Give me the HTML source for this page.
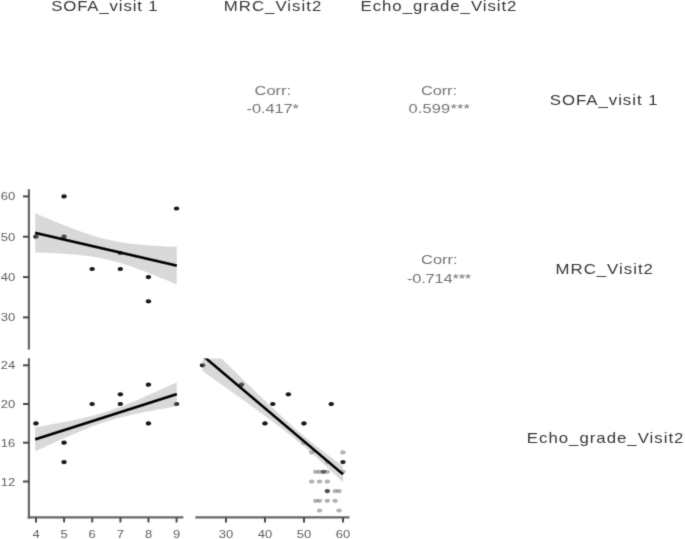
<!DOCTYPE html>
<html><head><meta charset="utf-8"><title>pairs plot</title>
<style>
html,body{margin:0;padding:0;background:#fff}
body{width:685px;height:539px;overflow:hidden}
svg{display:block;font-family:"Liberation Sans",Arial,Helvetica,sans-serif}
</style></head><body>
<svg width="685" height="539" viewBox="0 0 685 539">
<defs>
<filter id="b" x="-5%" y="-5%" width="110%" height="110%"><feConvolveMatrix order="3" kernelMatrix="1 6 1 6 36 6 1 6 1" divisor="64" edgeMode="duplicate" preserveAlpha="false"/></filter>
<clipPath id="c21"><rect x="29" y="189.4" width="154.4" height="159"/></clipPath>
<clipPath id="c31"><rect x="29" y="358.4" width="154.4" height="159"/></clipPath>
<clipPath id="c32"><rect x="195.4" y="358.4" width="154" height="159"/></clipPath>
</defs>
<rect width="685" height="539" fill="#fff"/>
<g filter="url(#b)">
<g clip-path="url(#c21)">
<ellipse cx="64.1" cy="196.4" rx="2.7" ry="2.1" fill="#000" fill-opacity="0.9"/>
<ellipse cx="176.6" cy="208.5" rx="2.7" ry="2.1" fill="#000" fill-opacity="0.9"/>
<ellipse cx="36.0" cy="236.7" rx="2.7" ry="2.1" fill="#000" fill-opacity="0.9"/>
<ellipse cx="64.1" cy="236.7" rx="2.7" ry="2.1" fill="#000" fill-opacity="0.9"/>
<ellipse cx="120.4" cy="252.9" rx="2.7" ry="2.1" fill="#000" fill-opacity="0.9"/>
<ellipse cx="92.2" cy="269.0" rx="2.7" ry="2.1" fill="#000" fill-opacity="0.9"/>
<ellipse cx="120.4" cy="269.0" rx="2.7" ry="2.1" fill="#000" fill-opacity="0.9"/>
<ellipse cx="148.5" cy="277.1" rx="2.7" ry="2.1" fill="#000" fill-opacity="0.9"/>
<ellipse cx="148.5" cy="301.3" rx="2.7" ry="2.1" fill="#000" fill-opacity="0.9"/>
<polygon points="35.2,213.1 38.7,214.7 42.3,216.2 45.8,217.7 49.4,219.2 52.9,220.7 56.4,222.1 60.0,223.6 63.5,225.0 67.1,226.4 70.6,227.8 74.1,229.1 77.7,230.4 81.2,231.7 84.8,233.0 88.3,234.1 91.8,235.3 95.4,236.4 98.9,237.4 102.5,238.3 106.0,239.2 109.5,240.1 113.1,240.8 116.6,241.5 120.2,242.1 123.7,242.7 127.2,243.2 130.8,243.7 134.3,244.1 137.9,244.5 141.4,244.8 144.9,245.1 148.5,245.4 152.0,245.6 155.6,245.8 159.1,246.0 162.6,246.2 166.2,246.4 169.7,246.5 173.3,246.7 176.8,246.8 176.8,284.6 173.3,283.1 169.7,281.6 166.2,280.1 162.6,278.6 159.1,277.2 155.6,275.7 152.0,274.3 148.5,272.9 144.9,271.5 141.4,270.2 137.9,268.9 134.3,267.6 130.8,266.3 127.2,265.2 123.7,264.0 120.2,262.9 116.6,261.9 113.1,261.0 109.5,260.1 106.0,259.3 102.5,258.5 98.9,257.8 95.4,257.2 91.8,256.6 88.3,256.1 84.8,255.7 81.2,255.3 77.7,254.9 74.1,254.6 70.6,254.3 67.1,254.0 63.5,253.8 60.0,253.5 56.4,253.3 52.9,253.2 49.4,253.0 45.8,252.8 42.3,252.7 38.7,252.6 35.2,252.5" fill="#999" fill-opacity="0.37"/>
<line x1="35.2" y1="232.8" x2="176.8" y2="265.7" stroke="#000" stroke-width="2.8"/>
</g>
<g clip-path="url(#c31)">
<ellipse cx="36.0" cy="423.4" rx="2.7" ry="2.1" fill="#000" fill-opacity="0.9"/>
<ellipse cx="64.1" cy="442.7" rx="2.7" ry="2.1" fill="#000" fill-opacity="0.9"/>
<ellipse cx="64.1" cy="462.1" rx="2.7" ry="2.1" fill="#000" fill-opacity="0.9"/>
<ellipse cx="92.2" cy="404.0" rx="2.7" ry="2.1" fill="#000" fill-opacity="0.9"/>
<ellipse cx="120.4" cy="394.3" rx="2.7" ry="2.1" fill="#000" fill-opacity="0.9"/>
<ellipse cx="120.4" cy="404.0" rx="2.7" ry="2.1" fill="#000" fill-opacity="0.9"/>
<ellipse cx="148.5" cy="384.7" rx="2.7" ry="2.1" fill="#000" fill-opacity="0.9"/>
<ellipse cx="148.5" cy="423.4" rx="2.7" ry="2.1" fill="#000" fill-opacity="0.9"/>
<ellipse cx="176.6" cy="404.0" rx="2.7" ry="2.1" fill="#000" fill-opacity="0.9"/>
<polygon points="35.2,427.3 38.7,426.7 42.3,426.0 45.8,425.4 49.4,424.7 52.9,424.1 56.4,423.4 60.0,422.7 63.5,422.1 67.1,421.4 70.6,420.7 74.1,419.9 77.7,419.2 81.2,418.4 84.8,417.6 88.3,416.8 91.8,415.9 95.4,415.0 98.9,414.0 102.5,412.9 106.0,411.8 109.5,410.7 113.1,409.5 116.6,408.2 120.2,406.9 123.7,405.5 127.2,404.1 130.8,402.7 134.3,401.2 137.9,399.7 141.4,398.2 144.9,396.6 148.5,395.1 152.0,393.5 155.6,391.9 159.1,390.3 162.6,388.7 166.2,387.1 169.7,385.5 173.3,383.9 176.8,382.3 176.8,406.1 173.3,406.8 169.7,407.4 166.2,408.0 162.6,408.7 159.1,409.3 155.6,410.0 152.0,410.7 148.5,411.4 144.9,412.1 141.4,412.8 137.9,413.5 134.3,414.3 130.8,415.0 127.2,415.9 123.7,416.7 120.2,417.6 116.6,418.5 113.1,419.5 109.5,420.5 106.0,421.7 102.5,422.8 98.9,424.0 95.4,425.3 91.8,426.6 88.3,428.0 84.8,429.4 81.2,430.9 77.7,432.4 74.1,433.9 70.6,435.4 67.1,436.9 63.5,438.5 60.0,440.1 56.4,441.7 52.9,443.2 49.4,444.8 45.8,446.5 42.3,448.1 38.7,449.7 35.2,451.3" fill="#999" fill-opacity="0.37"/>
<line x1="35.2" y1="439.3" x2="176.8" y2="394.2" stroke="#000" stroke-width="2.8"/>
</g>
<g clip-path="url(#c32)">
<ellipse cx="202.6" cy="365.3" rx="2.7" ry="2.1" fill="#000" fill-opacity="0.9"/>
<ellipse cx="241.6" cy="384.7" rx="2.7" ry="2.1" fill="#000" fill-opacity="0.9"/>
<ellipse cx="272.8" cy="404.0" rx="2.7" ry="2.1" fill="#000" fill-opacity="0.9"/>
<ellipse cx="288.4" cy="394.3" rx="2.7" ry="2.1" fill="#000" fill-opacity="0.9"/>
<ellipse cx="265.0" cy="423.4" rx="2.7" ry="2.1" fill="#000" fill-opacity="0.9"/>
<ellipse cx="304.0" cy="423.4" rx="2.7" ry="2.1" fill="#000" fill-opacity="0.9"/>
<ellipse cx="331.3" cy="404.0" rx="2.7" ry="2.1" fill="#000" fill-opacity="0.9"/>
<ellipse cx="343.0" cy="462.1" rx="2.7" ry="2.1" fill="#000" fill-opacity="0.85"/>
<ellipse cx="343.0" cy="452.4" rx="2.7" ry="2.1" fill="#000" fill-opacity="0.3"/>
<ellipse cx="343.0" cy="471.8" rx="2.7" ry="2.1" fill="#000" fill-opacity="0.3"/>
<ellipse cx="315.7" cy="471.8" rx="2.7" ry="2.1" fill="#000" fill-opacity="0.3"/>
<ellipse cx="319.6" cy="471.8" rx="2.7" ry="2.1" fill="#000" fill-opacity="0.3"/>
<ellipse cx="323.5" cy="471.8" rx="2.7" ry="2.1" fill="#000" fill-opacity="0.6"/>
<ellipse cx="327.4" cy="471.8" rx="2.7" ry="2.1" fill="#000" fill-opacity="0.3"/>
<ellipse cx="311.8" cy="481.5" rx="2.7" ry="2.1" fill="#000" fill-opacity="0.3"/>
<ellipse cx="319.6" cy="481.5" rx="2.7" ry="2.1" fill="#000" fill-opacity="0.3"/>
<ellipse cx="327.4" cy="481.5" rx="2.7" ry="2.1" fill="#000" fill-opacity="0.3"/>
<ellipse cx="327.4" cy="491.1" rx="2.7" ry="2.1" fill="#000" fill-opacity="0.7"/>
<ellipse cx="335.2" cy="491.1" rx="2.7" ry="2.1" fill="#000" fill-opacity="0.3"/>
<ellipse cx="339.1" cy="491.1" rx="2.7" ry="2.1" fill="#000" fill-opacity="0.3"/>
<ellipse cx="315.7" cy="500.8" rx="2.7" ry="2.1" fill="#000" fill-opacity="0.3"/>
<ellipse cx="319.6" cy="500.8" rx="2.7" ry="2.1" fill="#000" fill-opacity="0.3"/>
<ellipse cx="327.4" cy="500.8" rx="2.7" ry="2.1" fill="#000" fill-opacity="0.3"/>
<ellipse cx="335.2" cy="500.8" rx="2.7" ry="2.1" fill="#000" fill-opacity="0.3"/>
<ellipse cx="319.6" cy="510.5" rx="2.7" ry="2.1" fill="#000" fill-opacity="0.3"/>
<ellipse cx="339.1" cy="510.5" rx="2.7" ry="2.1" fill="#000" fill-opacity="0.3"/>
<ellipse cx="304.0" cy="442.7" rx="2.7" ry="2.1" fill="#000" fill-opacity="0.3"/>
<ellipse cx="311.8" cy="452.4" rx="2.7" ry="2.1" fill="#000" fill-opacity="0.3"/>
<ellipse cx="327.4" cy="462.1" rx="2.7" ry="2.1" fill="#000" fill-opacity="0.3"/>
<polygon points="202.6,339.9 204.9,342.2 207.3,344.5 209.6,346.8 212.0,349.1 214.3,351.4 216.6,353.7 219.0,356.0 221.3,358.3 223.7,360.6 226.0,362.9 228.3,365.2 230.7,367.5 233.0,369.8 235.4,372.0 237.7,374.3 240.0,376.6 242.4,378.9 244.7,381.2 247.1,383.4 249.4,385.7 251.7,388.0 254.1,390.2 256.4,392.5 258.8,394.7 261.1,397.0 263.4,399.2 265.8,401.5 268.1,403.7 270.5,405.9 272.8,408.1 275.1,410.3 277.5,412.5 279.8,414.7 282.2,416.8 284.5,419.0 286.8,421.1 289.2,423.2 291.5,425.3 293.9,427.4 296.2,429.4 298.5,431.4 300.9,433.4 303.2,435.4 305.6,437.4 307.9,439.3 310.2,441.2 312.6,443.1 314.9,445.0 317.3,446.8 319.6,448.6 321.9,450.5 324.3,452.3 326.6,454.0 329.0,455.8 331.3,457.6 333.6,459.3 336.0,461.1 338.3,462.8 340.7,464.5 343.0,466.2 343.0,482.2 340.7,480.0 338.3,477.8 336.0,475.5 333.6,473.3 331.3,471.1 329.0,468.9 326.6,466.7 324.3,464.6 321.9,462.4 319.6,460.3 317.3,458.1 314.9,456.0 312.6,453.9 310.2,451.9 307.9,449.8 305.6,447.8 303.2,445.8 300.9,443.8 298.5,441.9 296.2,439.9 293.9,438.0 291.5,436.1 289.2,434.3 286.8,432.4 284.5,430.6 282.2,428.8 279.8,427.0 277.5,425.2 275.1,423.4 272.8,421.7 270.5,419.9 268.1,418.2 265.8,416.4 263.4,414.7 261.1,413.0 258.8,411.3 256.4,409.6 254.1,407.9 251.7,406.2 249.4,404.5 247.1,402.8 244.7,401.1 242.4,399.4 240.0,397.8 237.7,396.1 235.4,394.4 233.0,392.7 230.7,391.1 228.3,389.4 226.0,387.7 223.7,386.1 221.3,384.4 219.0,382.8 216.6,381.1 214.3,379.4 212.0,377.8 209.6,376.1 207.3,374.5 204.9,372.8 202.6,371.2" fill="#999" fill-opacity="0.37"/>
<line x1="202.6" y1="355.5" x2="343.0" y2="474.2" stroke="#000" stroke-width="2.8"/>
</g>
<line x1="28.9" y1="189.20000000000002" x2="28.9" y2="349.59999999999997" stroke="#666666" stroke-width="2.2"/>
<line x1="28.9" y1="358.2" x2="28.9" y2="518.6" stroke="#666666" stroke-width="2.2"/>
<line x1="27.8" y1="517.4" x2="183.4" y2="517.4" stroke="#666666" stroke-width="2.2"/>
<line x1="195.4" y1="517.4" x2="349.4" y2="517.4" stroke="#666666" stroke-width="2.2"/>
<line x1="23" y1="196.4" x2="28.9" y2="196.4" stroke="#484848" stroke-width="2"/>
<text transform="translate(15.2,200.4) scale(1.3,1)" text-anchor="end" font-size="10" fill="#606060">60</text>
<line x1="23" y1="236.7" x2="28.9" y2="236.7" stroke="#484848" stroke-width="2"/>
<text transform="translate(15.2,240.7) scale(1.3,1)" text-anchor="end" font-size="10" fill="#606060">50</text>
<line x1="23" y1="277.1" x2="28.9" y2="277.1" stroke="#484848" stroke-width="2"/>
<text transform="translate(15.2,281.1) scale(1.3,1)" text-anchor="end" font-size="10" fill="#606060">40</text>
<line x1="23" y1="317.4" x2="28.9" y2="317.4" stroke="#484848" stroke-width="2"/>
<text transform="translate(15.2,321.4) scale(1.3,1)" text-anchor="end" font-size="10" fill="#606060">30</text>
<line x1="23" y1="365.3" x2="28.9" y2="365.3" stroke="#484848" stroke-width="2"/>
<text transform="translate(15.2,369.3) scale(1.3,1)" text-anchor="end" font-size="10" fill="#606060">24</text>
<line x1="23" y1="404.0" x2="28.9" y2="404.0" stroke="#484848" stroke-width="2"/>
<text transform="translate(15.2,408.0) scale(1.3,1)" text-anchor="end" font-size="10" fill="#606060">20</text>
<line x1="23" y1="442.7" x2="28.9" y2="442.7" stroke="#484848" stroke-width="2"/>
<text transform="translate(15.2,446.7) scale(1.3,1)" text-anchor="end" font-size="10" fill="#606060">16</text>
<line x1="23" y1="481.5" x2="28.9" y2="481.5" stroke="#484848" stroke-width="2"/>
<text transform="translate(15.2,485.5) scale(1.3,1)" text-anchor="end" font-size="10" fill="#606060">12</text>
<line x1="36.0" y1="517.4" x2="36.0" y2="522.4" stroke="#484848" stroke-width="2"/>
<text transform="translate(36.0,537.7) scale(1.3,1)" text-anchor="middle" font-size="10" fill="#606060">4</text>
<line x1="64.1" y1="517.4" x2="64.1" y2="522.4" stroke="#484848" stroke-width="2"/>
<text transform="translate(64.1,537.7) scale(1.3,1)" text-anchor="middle" font-size="10" fill="#606060">5</text>
<line x1="92.2" y1="517.4" x2="92.2" y2="522.4" stroke="#484848" stroke-width="2"/>
<text transform="translate(92.2,537.7) scale(1.3,1)" text-anchor="middle" font-size="10" fill="#606060">6</text>
<line x1="120.4" y1="517.4" x2="120.4" y2="522.4" stroke="#484848" stroke-width="2"/>
<text transform="translate(120.4,537.7) scale(1.3,1)" text-anchor="middle" font-size="10" fill="#606060">7</text>
<line x1="148.5" y1="517.4" x2="148.5" y2="522.4" stroke="#484848" stroke-width="2"/>
<text transform="translate(148.5,537.7) scale(1.3,1)" text-anchor="middle" font-size="10" fill="#606060">8</text>
<line x1="176.6" y1="517.4" x2="176.6" y2="522.4" stroke="#484848" stroke-width="2"/>
<text transform="translate(176.6,537.7) scale(1.3,1)" text-anchor="middle" font-size="10" fill="#606060">9</text>
<line x1="226.0" y1="517.4" x2="226.0" y2="522.4" stroke="#484848" stroke-width="2"/>
<text transform="translate(226.0,537.7) scale(1.3,1)" text-anchor="middle" font-size="10" fill="#606060">30</text>
<line x1="265.0" y1="517.4" x2="265.0" y2="522.4" stroke="#484848" stroke-width="2"/>
<text transform="translate(265.0,537.7) scale(1.3,1)" text-anchor="middle" font-size="10" fill="#606060">40</text>
<line x1="304.0" y1="517.4" x2="304.0" y2="522.4" stroke="#484848" stroke-width="2"/>
<text transform="translate(304.0,537.7) scale(1.3,1)" text-anchor="middle" font-size="10" fill="#606060">50</text>
<line x1="343.0" y1="517.4" x2="343.0" y2="522.4" stroke="#484848" stroke-width="2"/>
<text transform="translate(343.0,537.7) scale(1.3,1)" text-anchor="middle" font-size="10" fill="#606060">60</text>
<text transform="translate(51.2,11.2) scale(1.2,1)" textLength="88.7" lengthAdjust="spacing" font-size="14" fill="#383838">SOFA_visit 1</text>
<text transform="translate(223.8,11.2) scale(1.2,1)" textLength="81.2" lengthAdjust="spacing" font-size="14" fill="#383838">MRC_Visit2</text>
<text transform="translate(360.6,11.2) scale(1.2,1)" textLength="129.8" lengthAdjust="spacing" font-size="14" fill="#383838">Echo_grade_Visit2</text>
<text transform="translate(549.8,105.0) scale(1.2,1)" textLength="89.8" lengthAdjust="spacing" font-size="14" fill="#383838">SOFA_visit 1</text>
<text transform="translate(555.5,274.2) scale(1.2,1)" textLength="81.2" lengthAdjust="spacing" font-size="14" fill="#383838">MRC_Visit2</text>
<text transform="translate(526.8,443.3) scale(1.2,1)" textLength="130.5" lengthAdjust="spacing" font-size="14" fill="#383838">Echo_grade_Visit2</text>
<text transform="translate(254.6,94.9) scale(1.3,1)" textLength="28.0" lengthAdjust="spacing" font-size="12.6" fill="#747474">Corr:</text>
<text transform="translate(246.6,113.4) scale(1.3,1)" textLength="40.3" lengthAdjust="spacing" font-size="12.6" fill="#747474">-0.417*</text>
<text transform="translate(421.0,94.9) scale(1.3,1)" textLength="27.7" lengthAdjust="spacing" font-size="12.6" fill="#747474">Corr:</text>
<text transform="translate(408.6,113.4) scale(1.3,1)" textLength="47.1" lengthAdjust="spacing" font-size="12.6" fill="#747474">0.599***</text>
<text transform="translate(421.0,264.2) scale(1.3,1)" textLength="28.2" lengthAdjust="spacing" font-size="12.6" fill="#747474">Corr:</text>
<text transform="translate(407.0,282.9) scale(1.3,1)" textLength="49.4" lengthAdjust="spacing" font-size="12.6" fill="#747474">-0.714***</text>
</g>
</svg>
</body></html>
